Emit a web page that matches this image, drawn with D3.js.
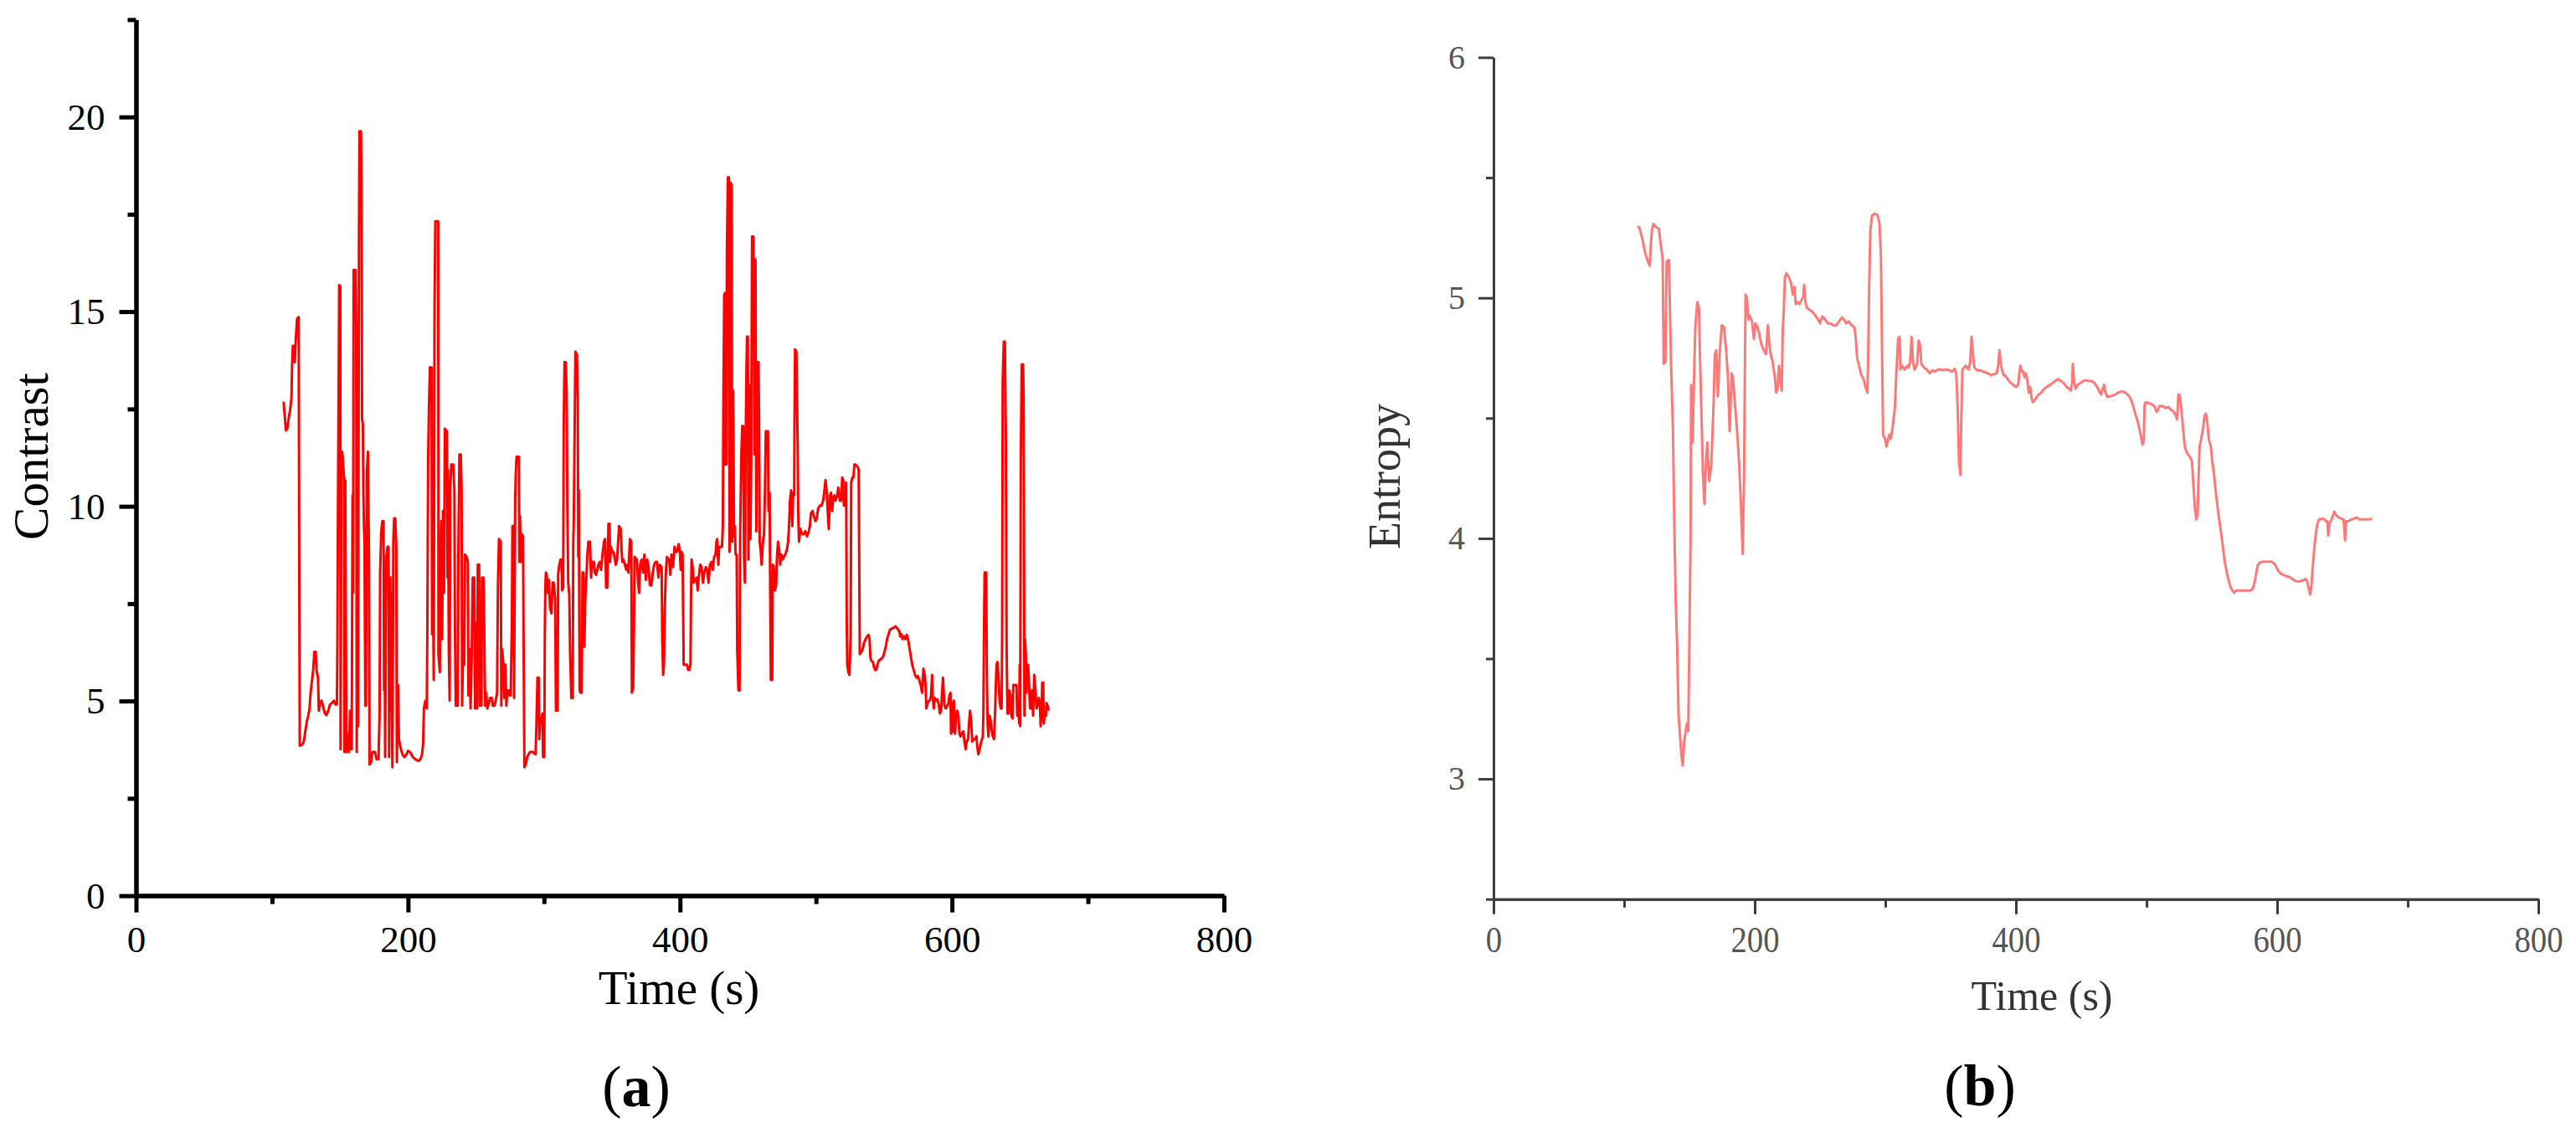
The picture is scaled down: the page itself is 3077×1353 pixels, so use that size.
<!DOCTYPE html>
<html><head><meta charset="utf-8">
<script src="https://cdn.jsdelivr.net/npm/d3@7"></script>
<style>html,body{margin:0;padding:0;background:#fff;} svg{display:block;}</style>
</head><body>
<script>
// ---------- DATA ----------
const xTicks = [0, 200, 400, 600, 800];
const xMinorTicks = [100, 300, 500, 700];
const contrastTicks = [0, 5, 10, 15, 20];
const contrastMinorTicks = [2.5, 7.5, 12.5, 17.5, 22.5];
const entropyTicks = [3, 4, 5, 6];
const entropyMinorTicks = [2.5, 3.5, 4.5, 5.5];

const contrastT = [108.5,110.2,111.2,112.2,113.2,114.3,114.7,115.3,116.3,116.7,117.5,118.4,119.6,120.0,120.4,122.5,123.5,124.5,125.6,126.6,127.6,128.2,129.0,130.3,131.1,132.1,132.7,133.8,134.4,135.2,136.4,137.9,138.9,139.9,141.4,142.6,144.0,145.5,146.7,147.7,148.1,148.5,149.0,149.4,150.2,150.4,151.0,151.6,152.2,153.1,153.3,153.9,154.3,154.7,155.7,156.7,157.4,158.0,158.6,159.2,159.6,160.0,161.5,161.9,162.3,162.7,163.3,163.9,164.3,165.4,165.8,166.2,166.8,167.2,167.6,168.0,168.6,169.1,169.7,170.5,171.3,171.7,172.8,173.8,175.8,176.9,178.3,179.1,179.5,180.3,181.2,182.0,182.4,182.8,183.2,184.0,184.9,185.7,186.1,186.9,187.3,187.7,188.5,189.2,189.8,190.6,191.4,191.8,192.7,193.3,194.3,195.9,197.4,198.8,200.0,201.5,203.5,205.6,207.6,209.1,210.3,211.1,211.7,212.8,213.8,214.2,214.8,215.4,216.1,217.3,217.7,218.3,218.9,219.5,220.1,222.2,222.4,223.4,223.8,224.5,225.1,225.7,226.5,227.1,228.6,229.0,229.4,230.0,230.6,231.0,231.8,233.3,234.1,234.5,235.1,236.6,237.0,237.8,238.8,239.4,239.8,240.7,241.3,241.9,243.1,244.0,244.4,245.2,246.0,246.8,
247.6,248.7,249.3,250.1,250.7,251.3,252.3,252.8,253.4,254.0,254.4,255.4,255.8,256.3,256.7,257.5,258.3,259.5,260.4,261.6,262.4,263.6,264.5,265.5,266.1,266.9,268.2,268.6,269.2,270.2,270.8,271.6,272.3,273.1,273.9,274.7,275.5,276.4,276.8,277.6,278.0,278.8,279.2,279.8,281.5,281.9,282.3,283.1,283.5,284.6,285.0,285.6,286.6,287.6,288.7,289.7,290.7,291.7,293.8,294.4,295.2,296.1,296.5,297.3,298.1,298.9,299.3,300.2,300.6,301.0,301.4,302.0,302.6,303.5,304.5,305.5,306.3,307.1,308.2,308.8,309.2,310.0,310.4,311.0,312.1,312.9,313.3,314.1,314.5,315.1,316.0,316.6,317.2,317.8,318.6,319.2,320.1,321.1,321.5,321.9,322.7,323.1,324.2,324.8,325.2,325.6,326.2,327.0,327.7,328.3,329.1,329.7,330.3,331.1,331.8,332.6,333.8,334.6,335.5,336.7,337.3,338.3,340.0,341.0,342.0,343.0,344.1,344.9,345.7,346.5,347.4,348.2,348.6,349.2,350.2,351.0,351.9,352.7,353.7,354.3,355.2,356.4,357.0,357.6,358.4,359.5,360.5,361.3,362.1,363.2,364.2,364.6,365.6,366.2,366.6,368.3,369.1,369.9,370.7,371.8,372.8,373.8,374.9,375.9,376.9,377.9,379.0,380.0,381.0,382.0,383.1,384.1,385.1,386.5,387.0,387.6,388.2,388.8,389.6,390.4,391.9,
392.1,392.9,393.7,394.9,396.0,397.0,397.8,399.1,399.9,400.5,401.1,401.9,402.3,402.7,404.0,405.2,406.0,406.8,407.7,408.1,408.5,409.3,410.1,411.4,412.2,413.0,413.8,414.9,415.9,416.9,417.9,419.0,420.0,421.0,422.0,423.1,424.1,425.1,426.1,426.8,427.4,428.2,428.8,429.6,430.9,431.5,431.9,432.5,433.1,433.5,434.1,434.5,435.2,436.0,436.4,436.8,437.2,438.0,438.4,438.9,439.3,439.7,440.3,440.9,441.7,442.1,443.0,443.8,444.2,444.6,445.2,445.8,446.5,447.1,447.7,448.3,448.9,449.3,449.9,450.3,450.8,451.4,451.8,452.4,453.0,454.0,454.5,454.9,455.5,456.1,456.9,457.7,458.1,458.6,459.4,460.0,461.0,461.8,462.5,463.1,464.7,465.1,465.9,466.4,466.8,467.8,468.2,469.0,469.8,470.7,471.3,472.1,472.9,473.7,474.6,475.4,476.4,477.4,478.7,479.5,480.1,480.9,481.7,482.6,483.2,484.0,484.2,484.6,485.6,486.5,486.9,487.5,488.5,489.7,491.0,492.2,493.4,494.7,495.5,496.3,497.5,498.4,499.6,500.6,501.6,502.9,504.1,505.3,506.2,507.0,507.8,508.6,509.4,510.3,511.1,511.9,512.7,513.6,514.4,515.6,516.4,517.5,518.5,519.3,520.1,520.5,521.3,521.8,522.2,522.6,523.0,523.8,524.6,525.5,525.9,526.7,527.5,528.3,529.1,
530.8,531.4,531.8,532.2,533.3,534.3,535.3,536.5,537.6,538.6,539.4,540.0,540.6,541.9,542.7,543.5,544.3,545.2,546.2,547.6,549.3,550.3,551.3,552.3,553.4,554.4,555.8,557.1,558.5,559.9,561.2,562.0,562.8,563.6,564.7,565.7,566.7,567.7,568.8,569.8,570.8,571.8,572.9,573.9,574.9,575.9,577.0,578.0,579.0,580.0,580.7,581.1,582.1,583.1,583.7,584.6,585.4,585.8,586.6,587.4,588.3,589.3,590.3,591.1,592.0,592.8,593.4,594.4,595.4,596.5,597.5,598.1,598.9,599.3,600.2,600.6,601.4,602.2,603.0,603.9,604.7,605.5,606.3,607.1,608.4,609.2,610.0,610.8,611.9,612.5,613.3,614.1,614.9,616.0,617.0,618.0,618.6,619.4,620.3,621.1,622.1,622.7,623.1,623.6,624.0,625.2,625.6,626.2,626.8,627.7,628.5,629.3,630.1,630.9,631.8,632.2,632.8,633.4,634.2,635.0,635.9,636.5,636.9,637.3,638.1,638.9,639.6,640.2,640.8,641.6,642.2,643.0,643.7,644.5,645.1,646.1,647.4,648.0,648.8,649.4,649.8,650.2,650.6,651.3,652.3,652.7,653.3,653.7,654.3,654.7,655.4,656.0,656.8,657.4,658.0,658.8,659.7,660.5,661.3,662.1,662.9,663.8,664.6,665.2,665.8,666.4,667.1,667.5,668.3,669.1,669.5,670.3,671.2];

const contrastV = [12.69,11.95,11.99,12.25,12.45,12.78,13.57,14.12,14.12,13.70,14.30,14.82,14.86,8.70,3.85,3.89,3.98,4.22,4.48,4.62,4.81,5.14,5.41,5.80,6.26,6.26,5.80,5.60,4.75,4.95,5.01,4.81,4.68,4.64,4.75,4.91,4.95,5.01,4.91,4.91,6.59,9.95,13.18,15.68,15.65,3.76,11.33,11.40,11.14,10.67,3.69,10.67,6.72,3.69,4.16,3.69,4.75,4.75,3.76,10.28,7.78,16.07,16.07,14.63,3.69,11.73,4.35,16.73,19.63,19.63,18.12,12.25,12.12,10.28,9.49,9.09,4.88,4.88,10.87,11.40,8.70,3.37,3.43,3.69,3.69,3.50,3.50,4.68,8.30,9.36,9.62,9.62,5.27,6.72,3.56,8.70,8.96,8.96,3.56,8.17,4.75,7.78,3.30,9.09,9.69,9.69,8.96,3.43,5.41,4.02,3.83,3.63,3.56,3.63,3.72,3.69,3.56,3.50,3.46,3.50,3.63,3.89,4.81,5.01,4.81,6.72,11.20,12.52,13.57,13.57,6.72,8.83,5.54,15.15,17.32,17.32,6.20,5.74,8.83,9.62,6.59,9.88,7.78,11.99,11.93,8.17,10.94,6.33,5.01,10.41,11.07,11.07,10.41,6.99,4.88,4.88,8.70,11.33,11.33,10.41,4.88,6.72,5.93,8.76,8.70,8.57,5.14,6.33,4.81,6.07,
8.17,8.17,4.81,6.99,4.81,8.50,8.50,4.88,7.12,4.88,8.17,8.17,7.78,5.93,4.88,5.21,4.81,4.95,5.08,5.08,4.88,4.88,5.01,5.21,7.91,9.16,9.09,4.88,6.33,5.93,5.08,5.93,4.88,5.27,5.27,5.14,5.14,7.05,9.49,9.49,5.08,10.15,10.81,11.27,11.27,8.57,9.75,8.57,9.29,9.23,6.46,3.30,3.37,3.56,3.63,3.69,3.69,3.69,3.63,4.35,5.60,5.60,4.02,4.55,4.55,4.68,3.56,3.56,6.72,7.97,8.30,8.24,7.78,8.11,7.38,7.25,8.04,8.04,7.65,4.75,6.20,4.75,8.24,8.44,8.63,8.63,7.84,7.91,12.12,13.70,13.70,12.98,9.88,8.04,7.71,6.20,5.08,5.08,9.09,9.62,12.65,13.97,13.90,12.78,8.70,10.41,5.27,5.21,5.21,8.30,8.30,6.39,7.58,8.11,8.70,9.09,9.09,8.17,8.57,8.57,8.30,8.24,8.50,8.57,8.37,8.76,9.09,9.16,7.91,7.91,9.55,9.55,8.57,8.96,8.83,8.83,8.70,8.50,8.63,8.96,9.49,9.42,8.90,8.57,8.63,8.50,8.37,8.50,8.30,9.16,9.09,5.21,5.34,7.05,8.70,8.63,8.11,7.78,8.50,8.63,8.30,8.76,8.11,8.63,8.44,7.97,7.97,8.30,8.50,8.57,8.57,8.17,8.50,8.44,6.53,5.67,5.93,7.38,8.30,8.70,8.63,
8.63,8.24,8.76,8.44,8.96,8.83,8.83,9.03,8.83,8.37,8.83,8.76,7.38,5.93,5.93,5.93,5.80,5.80,5.93,7.65,8.63,8.44,8.04,8.11,8.17,7.84,8.17,8.50,8.44,8.04,8.30,8.44,8.37,8.04,8.50,8.57,8.37,8.70,8.76,9.09,9.16,8.50,8.96,8.96,8.96,9.49,12.65,15.42,15.48,11.07,11.07,16.60,18.45,18.45,8.83,9.62,18.31,18.25,9.09,12.98,12.12,9.23,9.49,8.76,8.76,6.26,5.27,5.27,9.09,10.15,11.46,12.06,12.06,8.70,8.04,11.66,13.57,14.36,14.36,8.63,13.11,13.05,9.16,11.33,16.93,16.93,14.49,11.33,16.34,9.36,13.70,13.70,12.39,9.09,8.83,8.50,9.09,9.29,10.41,11.93,11.93,9.88,10.35,7.51,5.54,5.54,8.50,8.44,7.84,7.97,8.70,9.09,8.90,8.50,8.76,8.63,8.70,8.76,8.90,9.09,9.42,10.15,10.41,9.49,10.35,10.28,12.12,14.03,13.97,11.60,9.88,9.09,9.42,9.29,9.29,9.36,9.23,9.36,9.49,9.82,9.88,9.75,9.62,9.69,9.95,10.02,10.02,10.15,10.41,10.67,10.41,9.88,9.42,10.28,10.35,9.88,10.21,10.28,10.15,10.28,10.48,10.15,10.15,10.74,10.67,10.02,10.02,10.41,10.61,7.12,5.93,5.74,5.67,6.66,10.61,10.74,10.74,11.07,11.07,
11.00,10.94,8.57,6.20,6.26,6.33,6.49,6.59,6.66,6.70,6.59,6.13,6.04,6.00,5.87,5.80,5.80,5.93,6.04,6.07,6.13,6.26,6.39,6.59,6.72,6.83,6.86,6.88,6.92,6.86,6.79,6.66,6.72,6.59,6.66,6.59,6.70,6.59,6.35,6.13,5.93,5.80,5.67,5.60,5.64,5.54,5.41,5.21,5.83,5.67,5.34,4.81,4.95,5.01,5.01,5.14,5.67,5.14,4.81,5.08,5.01,5.04,4.91,4.68,4.75,5.27,5.60,4.88,4.81,4.88,4.95,5.14,5.21,4.16,4.95,4.22,5.01,4.16,4.62,4.75,4.62,4.16,4.09,4.16,4.22,3.96,3.76,3.96,4.02,4.42,4.75,4.48,3.96,4.02,4.02,4.09,3.83,3.63,3.76,3.89,4.02,4.09,4.68,6.86,8.30,8.30,5.74,4.42,4.09,4.62,4.48,4.22,4.09,4.02,4.81,5.34,5.93,6.00,5.67,5.01,4.81,4.81,6.72,13.18,14.23,14.23,11.73,6.26,4.68,4.68,5.27,5.14,4.62,4.55,5.41,5.41,5.41,4.62,4.95,4.42,5.93,4.35,11.14,13.64,13.64,12.78,4.62,6.59,6.20,5.21,5.74,5.93,5.34,4.81,4.81,5.27,4.62,5.67,5.34,4.81,4.88,5.08,4.95,4.35,4.68,5.47,5.47,4.42,4.68,4.62,4.95,4.88,4.75];

const entropyT = [110.3,111.8,113.9,116.0,118.2,119.7,120.3,121.4,122.4,124.6,126.7,127.8,129.5,130.3,131.6,132.5,134.2,134.8,135.9,137.4,138.5,139.5,140.6,141.7,143.8,144.9,145.9,148.1,149.1,150.2,150.9,151.3,152.4,153.4,154.5,156.0,157.3,158.1,159.4,160.3,161.5,162.4,163.7,165.2,166.7,168.4,169.5,170.5,171.8,173.1,174.8,176.5,178.0,179.5,180.8,182.3,183.3,185.1,186.5,188.0,189.3,190.8,191.9,192.5,193.0,194.0,195.1,196.2,197.9,199.4,200.4,202.2,203.6,205.1,206.9,208.6,210.1,211.1,212.2,213.7,215.4,216.5,217.5,218.6,219.7,220.7,221.4,222.2,223.1,224.4,226.1,227.8,229.3,230.4,231.4,232.5,234.2,235.7,237.2,237.8,238.9,240.0,242.1,244.2,246.4,248.5,250.0,251.7,253.9,256.0,258.1,260.3,262.4,264.5,266.7,268.4,269.9,272.0,274.2,276.3,277.4,278.4,279.5,280.6,281.6,282.7,283.8,284.8,286.3,287.0,287.6,288.5,289.8,291.9,294.0,295.5,296.6,297.7,298.3,299.8,300.9,301.9,303.0,304.1,305.6,307.3,308.4,309.8,310.9,311.6,312.6,314.8,316.9,318.0,319.0,320.1,321.2,322.2,323.3,324.4,325.5,326.5,327.6,329.7,331.9,334.0,336.1,338.3,340.4,342.5,344.7,346.8,349.0,351.1,353.2,354.3,355.4,356.4,357.5,358.1,359.0,360.3,361.8,362.8,363.9,365.0,366.0,367.1,368.2,370.3,372.5,374.6,376.7,378.9,381.0,383.2,385.3,386.4,387.4,388.5,390.6,
391.7,393.8,396.0,398.1,400.2,401.7,402.6,403.4,404.5,405.6,406.6,407.7,408.8,409.8,410.9,412.0,413.0,415.2,417.3,419.4,421.6,423.7,425.9,428.0,430.1,432.3,434.4,436.5,438.7,440.8,441.9,443.0,443.6,444.5,445.7,447.2,449.4,451.5,453.6,455.8,457.9,460.1,462.2,464.3,465.4,466.5,467.5,468.6,469.7,471.8,473.9,476.1,478.2,480.4,482.5,484.6,486.8,488.9,491.0,493.2,495.3,497.0,497.9,498.5,499.6,501.7,503.9,506.0,507.7,508.8,509.8,512.4,514.5,516.7,518.8,520.9,522.4,523.5,524.4,525.2,526.3,527.4,528.4,529.5,531.6,533.8,534.8,535.9,537.0,538.1,539.1,539.8,540.6,541.9,543.4,544.5,545.5,546.6,547.7,549.2,550.4,551.9,553.4,555.2,556.9,558.4,559.9,561.6,563.3,564.8,566.9,569.0,571.2,573.3,575.4,577.6,579.7,581.4,583.0,584.0,585.1,586.8,589.3,592.5,595.7,597.9,599.6,601.1,603.2,605.4,607.5,609.6,611.8,613.9,616.1,618.2,620.3,621.8,623.1,624.2,625.2,626.1,626.9,627.8,628.9,629.9,631.0,632.1,633.1,634.6,636.4,637.4,638.5,639.1,640.2,641.7,642.8,643.8,644.9,647.0,649.2,650.9,652.0,652.8,654.5,656.7,658.8,660.9,663.1,665.2,667.3,670.5,672.7];

const entropyV = [5.297,5.291,5.246,5.190,5.150,5.134,5.214,5.286,5.307,5.294,5.286,5.230,5.166,4.726,4.734,5.150,5.158,5.022,4.734,4.446,4.031,3.743,3.551,3.263,3.103,3.055,3.151,3.231,3.199,3.679,4.031,4.638,4.398,4.638,4.878,4.982,4.958,4.750,4.478,4.271,4.143,4.287,4.398,4.239,4.303,4.542,4.766,4.782,4.590,4.766,4.886,4.878,4.790,4.670,4.446,4.686,4.670,4.542,4.446,4.318,4.159,3.935,4.287,4.718,5.014,4.998,4.910,4.926,4.902,4.830,4.894,4.878,4.846,4.806,4.782,4.766,4.886,4.814,4.766,4.734,4.670,4.606,4.622,4.718,4.654,4.614,4.854,4.942,5.086,5.102,5.086,5.062,5.014,5.046,4.974,4.982,4.974,4.990,5.006,5.054,4.982,4.958,4.950,4.942,4.926,4.910,4.894,4.923,4.910,4.894,4.894,4.886,4.886,4.902,4.918,4.910,4.894,4.902,4.886,4.878,4.830,4.750,4.726,4.702,4.678,4.670,4.654,4.630,4.606,4.798,5.038,5.278,5.342,5.350,5.345,5.310,5.182,4.686,4.430,4.414,4.382,4.406,4.430,4.414,4.462,4.542,4.686,4.830,4.838,4.702,4.718,4.702,4.718,4.710,4.734,4.838,4.734,4.702,4.710,4.726,4.822,4.806,4.726,4.710,4.702,4.686,4.699,4.694,4.702,4.702,4.699,4.702,4.699,4.694,4.705,4.686,4.542,4.318,4.263,4.478,4.702,4.710,4.718,4.710,4.702,4.734,4.838,4.766,4.710,4.699,4.699,4.694,4.690,4.686,4.678,4.683,4.686,4.718,4.782,4.718,4.678,
4.678,4.662,4.646,4.638,4.630,4.638,4.686,4.718,4.694,4.694,4.670,4.686,4.654,4.606,4.630,4.582,4.566,4.582,4.598,4.606,4.622,4.630,4.638,4.646,4.654,4.662,4.654,4.646,4.630,4.622,4.614,4.646,4.726,4.654,4.622,4.638,4.646,4.654,4.658,4.654,4.654,4.646,4.630,4.606,4.598,4.622,4.638,4.606,4.590,4.590,4.594,4.598,4.606,4.610,4.610,4.603,4.590,4.566,4.526,4.486,4.438,4.390,4.406,4.558,4.566,4.562,4.558,4.550,4.526,4.534,4.550,4.550,4.542,4.546,4.534,4.526,4.510,4.494,4.598,4.598,4.558,4.494,4.430,4.374,4.350,4.334,4.318,4.223,4.127,4.079,4.095,4.239,4.382,4.414,4.462,4.510,4.518,4.478,4.414,4.382,4.318,4.255,4.175,4.095,4.031,3.967,3.903,3.855,3.815,3.791,3.775,3.783,3.783,3.783,3.783,3.783,3.783,3.791,3.823,3.855,3.887,3.900,3.903,3.903,3.903,3.895,3.879,3.863,3.852,3.847,3.842,3.839,3.831,3.823,3.820,3.823,3.826,3.831,3.820,3.791,3.767,3.791,3.855,3.919,3.983,4.031,4.063,4.079,4.079,4.082,4.079,4.071,4.071,4.012,4.063,4.079,4.095,4.111,4.098,4.087,4.082,4.079,3.991,4.071,4.071,4.079,4.082,4.087,4.079,4.079,4.079,4.079,4.082];

// ---------- DRAW ----------
const W = 3077, H = 1353;
const svg = d3.select("body").append("svg").attr("width", W).attr("height", H)
  .style("font-family", "'Liberation Serif', 'Times New Roman', serif");
svg.append("rect").attr("width", W).attr("height", H).attr("fill", "#fff");

// ===== Panel (a) =====
const xA = d3.scaleLinear().domain([0, 800]).range([162.5, 1462]);
const yA = d3.scaleLinear().domain([0, 22.5]).range([1069.6, 23.4]);

function styleAxis(g, color, width, fontSize) {
  g.select(".domain").attr("stroke", color).attr("stroke-width", width);
  g.selectAll(".tick line").attr("stroke", color).attr("stroke-width", width);
  g.selectAll(".tick text").attr("fill", color).style("font-size", fontSize + "px")
   .style("font-family", "'Liberation Serif', serif");
}

const gA = svg.append("g");
// minor ticks
gA.append("g").attr("transform", `translate(0,${yA(0)})`)
  .call(d3.axisBottom(xA).tickValues(xMinorTicks).tickSize(10).tickSizeOuter(0).tickFormat(""))
  .call(g => styleAxis(g, "#000", 5, 45));
gA.append("g").attr("transform", `translate(${xA(0)},0)`)
  .call(d3.axisLeft(yA).tickValues(contrastMinorTicks).tickSize(10).tickSizeOuter(0).tickFormat(""))
  .call(g => styleAxis(g, "#000", 5, 45));
// major
gA.append("g").attr("transform", `translate(0,${yA(0)})`)
  .call(d3.axisBottom(xA).tickValues(xTicks).tickSize(20).tickSizeOuter(0).tickPadding(15).tickFormat(d3.format("d")))
  .call(g => styleAxis(g, "#000", 5, 45));
gA.append("g").attr("transform", `translate(${xA(0)},0)`)
  .call(d3.axisLeft(yA).tickValues(contrastTicks).tickSize(20).tickSizeOuter(0).tickPadding(17).tickFormat(d3.format("d")))
  .call(g => styleAxis(g, "#000", 5, 45));

const lineA = d3.line().x(d => xA(d[0])).y(d => yA(d[1]));
gA.append("path").datum(d3.zip(contrastT, contrastV))
  .attr("d", lineA).attr("fill", "none").attr("stroke", "#ff0000")
  .attr("stroke-width", 3).attr("stroke-linejoin", "round");

gA.append("text").attr("transform", "translate(57,545) rotate(-90)")
  .attr("text-anchor", "middle").style("font-size", "59px").attr("fill", "#000").text("Contrast");
gA.append("text").attr("x", 811).attr("y", 1199).attr("text-anchor", "middle")
  .style("font-size", "57px").attr("fill", "#000").text("Time (s)");
const ta = gA.append("text").attr("x", 760).attr("y", 1321).attr("text-anchor", "middle")
  .style("font-size", "70px").attr("fill", "#000");
ta.append("tspan").text("(");
ta.append("tspan").style("font-weight", "bold").text("a");
ta.append("tspan").text(")");

// ===== Panel (b) =====
const xB = d3.scaleLinear().domain([0, 800]).range([1784, 3032]);
const yB = d3.scaleLinear().domain([2.5, 6]).range([1073.7, 68.5]);
const axCol = "#3c3c3c";
const gB = svg.append("g");
gB.append("g").attr("transform", `translate(0,${yB(2.5)})`)
  .call(d3.axisBottom(xB).tickValues(xMinorTicks).tickSize(10).tickSizeOuter(0).tickFormat(""))
  .call(g => styleAxis(g, axCol, 3, 44));
gB.append("g").attr("transform", `translate(${xB(0)},0)`)
  .call(d3.axisLeft(yB).tickValues(entropyMinorTicks).tickSize(9).tickSizeOuter(0).tickFormat(""))
  .call(g => styleAxis(g, axCol, 3, 38));
gB.append("g").attr("transform", `translate(0,${yB(2.5)})`)
  .call(d3.axisBottom(xB).tickValues(xTicks).tickSize(18).tickSizeOuter(0).tickPadding(14).tickFormat(d3.format("d")))
  .call(g => styleAxis(g, axCol, 3, 44))
  .call(g => g.selectAll(".tick text").attr("fill", "#555").attr("transform", "scale(0.88,1)"));
gB.append("g").attr("transform", `translate(${xB(0)},0)`)
  .call(d3.axisLeft(yB).tickValues(entropyTicks).tickSize(18).tickSizeOuter(0).tickPadding(16).tickFormat(d3.format("d")))
  .call(g => styleAxis(g, axCol, 3, 40))
  .call(g => g.selectAll(".tick text").attr("fill", "#555"));

const lineB = d3.line().x(d => xB(d[0])).y(d => yB(d[1]));
gB.append("path").datum(d3.zip(entropyT, entropyV))
  .attr("d", lineB).attr("fill", "none").attr("stroke", "rgb(255,120,120)")
  .attr("stroke-width", 3).attr("stroke-linejoin", "round");

gB.append("text").attr("transform", "translate(1672,569) rotate(-90)")
  .attr("text-anchor", "middle").style("font-size", "54px").attr("fill", "#333").text("Entropy");
gB.append("text").attr("x", 2439).attr("y", 1206).attr("text-anchor", "middle")
  .style("font-size", "50px").attr("fill", "#333").text("Time (s)");
const tb = gB.append("text").attr("x", 2365).attr("y", 1320).attr("text-anchor", "middle")
  .style("font-size", "70px").attr("fill", "#000");
tb.append("tspan").text("(");
tb.append("tspan").style("font-weight", "bold").text("b");
tb.append("tspan").text(")");
</script>
</body></html>
